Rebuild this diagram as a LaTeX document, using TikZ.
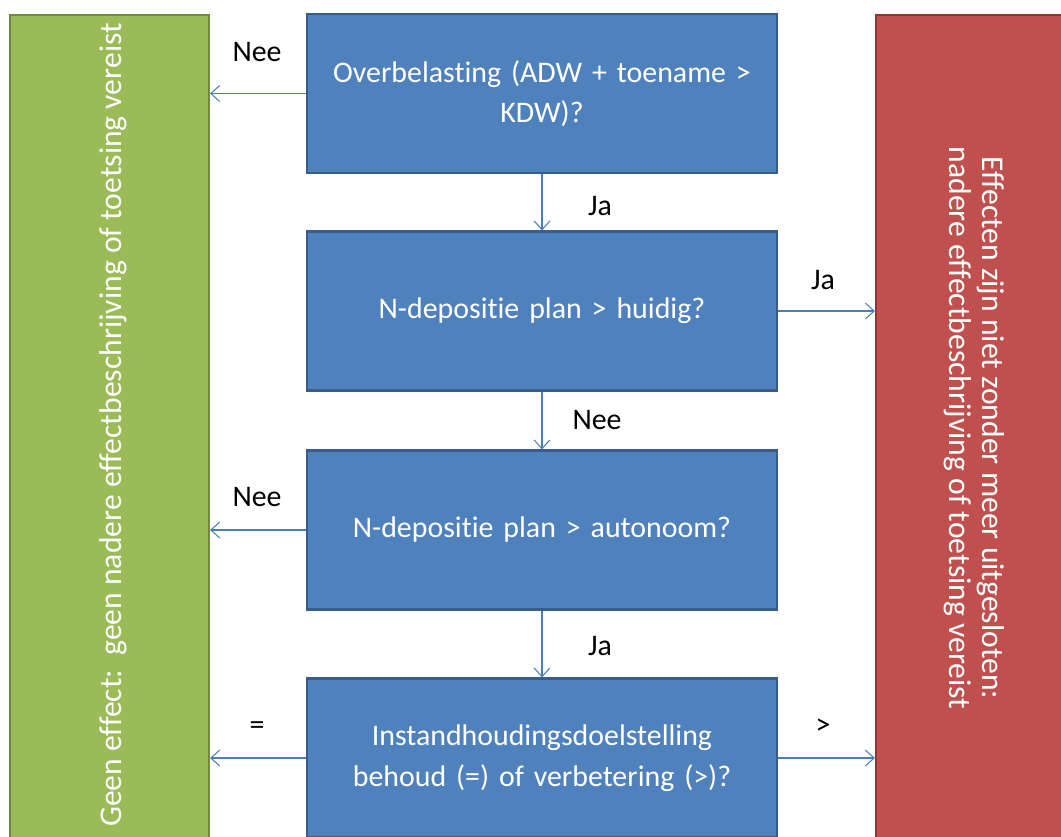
\documentclass[tikz,border=0pt]{standalone}
\usepackage{fontspec}
\setmainfont[Ligatures=NoCommon]{Carlito}
\usetikzlibrary{arrows.meta}
\definecolor{vraagblauw}{HTML}{4F81BD}
\definecolor{vraagrand}{HTML}{385D8A}
\definecolor{geengroen}{HTML}{9BBB59}
\definecolor{groenrand}{HTML}{71893F}
\definecolor{effectrood}{HTML}{C0504D}
\definecolor{roodrand}{HTML}{8C3836}
\definecolor{pijlblauw}{HTML}{4A7EBB}
\tikzset{
  vraag/.style={draw=vraagrand,line width=1.2pt,fill=vraagblauw,text=white,
    minimum width=9.4cm,minimum height=3.18cm,text width=9.1cm,align=center,
    font=\fontsize{17}{23}\selectfont},
  uitkomst/.style={line width=1.2pt,minimum height=17.7cm},
  pijl/.style={draw=pijlblauw,line width=0.6pt,-{Straight Barb[length=5pt,width=9pt]}},
  lbl/.style={font=\fontsize{17}{20}\selectfont}
}
\begin{document}
\begin{tikzpicture}[x=0.02cm,y=-0.02cm]
        \useasboundingbox (0,0) rectangle (1061,836);
        \clip (0,0) rectangle (1061,836);
        \node[uitkomst,draw=groenrand,fill=geengroen,minimum width=3.98cm](geen)at(109.5,457){};
        \node[uitkomst,draw=roodrand,fill=effectrood,minimum width=4.4cm](effect)at(986,457){};
        \node[rotate=90,text=white,font=\fontsize{18}{20}\selectfont](geentekst)at(113,425){Geen effect:\ \ geen nadere effectbeschrijving of toetsing vereist};
        \node[rotate=-90,text=white,align=center,font=\fontsize{18}{19}\selectfont](effecttekst)at(974,428){Effecten zijn niet zonder meer uitgesloten:\\nadere effectbeschrijving of toetsing vereist};
        \node[vraag](q1)at(542,93.5){Overbelasting (ADW + toename >\\KDW)?};
        \node[vraag](q2)at(542,311){N-depositie plan > huidig?};
        \node[vraag](q3)at(542,530){N-depositie plan > autonoom?};
        \node[vraag](q4)at(542,758){Instandhoudingsdoelstelling\\behoud (=) of verbetering (>)?};
        \draw[pijl](q1.west)--(q1.west-|geen.east);
        \draw[pijl](q1)--(q2);
        \draw[pijl](q2.east)--(q2.east-|effect.west);
        \draw[pijl](q2)--(q3);
        \draw[pijl](q3.west)--(q3.west-|geen.east);
        \draw[pijl](q3)--(q4);
        \draw[pijl](q4.west)--(q4.west-|geen.east);
        \draw[pijl](q4.east)--(q4.east-|effect.west);
        \node[lbl](nee1)at(257,52){Nee};
        \node[lbl](ja1)at(600,206){Ja};
        \node[lbl](ja2)at(823,280){Ja};
        \node[lbl](nee2)at(597,420){Nee};
        \node[lbl](nee3)at(257,497){Nee};
        \node[lbl](ja3)at(600,646){Ja};
        \node[lbl](gelijk)at(257,728){=};
        \node[lbl](groter)at(823,727){>};
    \end{tikzpicture}
\end{document}
